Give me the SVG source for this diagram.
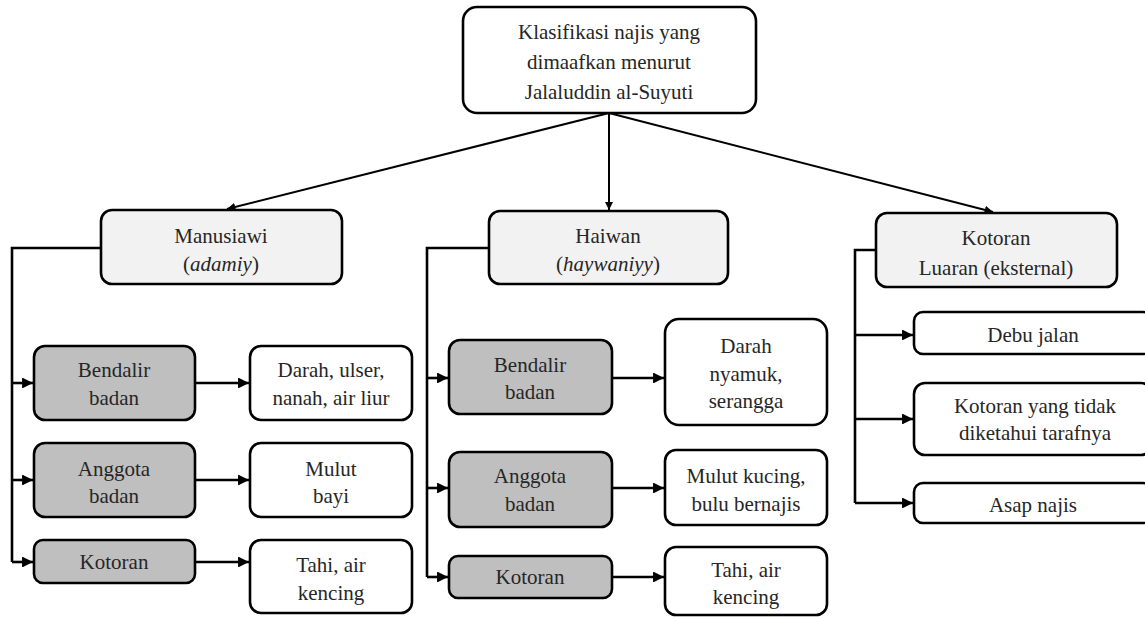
<svg xmlns="http://www.w3.org/2000/svg" width="1145" height="617" viewBox="0 0 1145 617">
<style>
.box{stroke:#000;stroke-width:2.6}
.w{fill:#fff}
.l{fill:#f2f2f2}
.g{fill:#bfbfbf}
.c{fill:none;stroke:#000;stroke-width:2.6}
.t{fill:none;stroke:#000;stroke-width:2}
</style>
<defs>
<marker id="ah" viewBox="0 0 10 10" refX="10" refY="5" markerWidth="4.2" markerHeight="4.2" orient="auto" markerUnits="strokeWidth">
<path d="M0,0 L10,5 L0,10 z" fill="#000"/>
</marker>
</defs>
<g id="connectors">
<path class="t" d="M609,113 L227,209" marker-end="url(#ah)"/>
<path class="t" d="M609,113 L609,210" marker-end="url(#ah)"/>
<path class="t" d="M609,113 L993,212" marker-end="url(#ah)"/>
<path class="c" d="M101,248 H12 V562"/>
<path class="c" d="M12,383 H33" marker-end="url(#ah)"/>
<path class="c" d="M12,480 H33" marker-end="url(#ah)"/>
<path class="c" d="M12,562 H33" marker-end="url(#ah)"/>
<path class="c" d="M195,383 H249" marker-end="url(#ah)"/>
<path class="c" d="M195,480 H249" marker-end="url(#ah)"/>
<path class="c" d="M195,562 H249" marker-end="url(#ah)"/>
<path class="c" d="M489,248 H427 V577"/>
<path class="c" d="M427,378 H448" marker-end="url(#ah)"/>
<path class="c" d="M427,488 H448" marker-end="url(#ah)"/>
<path class="c" d="M427,577 H448" marker-end="url(#ah)"/>
<path class="c" d="M612,378 H664" marker-end="url(#ah)"/>
<path class="c" d="M612,488 H664" marker-end="url(#ah)"/>
<path class="c" d="M612,577 H664" marker-end="url(#ah)"/>
<path class="c" d="M876,250 H855 V503"/>
<path class="c" d="M855,335 H913" marker-end="url(#ah)"/>
<path class="c" d="M855,419 H913" marker-end="url(#ah)"/>
<path class="c" d="M855,503 H913" marker-end="url(#ah)"/>
</g>
<g font-family="Liberation Serif, Times New Roman, serif" font-size="21" fill="#262626" text-anchor="middle">
<g id="root">
<rect class="box w" x="463" y="7" width="293" height="106" rx="14"/>
<text x="609" y="39">Klasifikasi najis yang</text>
<text x="609" y="69">dimaafkan menurut</text>
<text x="609" y="99">Jalaluddin al-Suyuti</text>
</g>
<g id="manusiawi">
<rect class="box l" x="101" y="210" width="241" height="74" rx="11"/>
<text x="221" y="243">Manusiawi</text>
<text x="221" y="271">(<tspan font-style="italic">adamiy</tspan>)</text>
</g>
<g id="m-bendalir">
<rect class="box g" x="34" y="346" width="161" height="74" rx="11"/>
<text x="114" y="377">Bendalir</text>
<text x="114" y="405">badan</text>
</g>
<g id="m-darah">
<rect class="box w" x="250" y="346" width="162" height="74" rx="11"/>
<text x="331" y="377">Darah, ulser,</text>
<text x="331" y="405">nanah, air liur</text>
</g>
<g id="m-anggota">
<rect class="box g" x="34" y="443" width="161" height="74" rx="11"/>
<text x="114" y="476">Anggota</text>
<text x="114" y="503">badan</text>
</g>
<g id="m-mulut">
<rect class="box w" x="250" y="443" width="162" height="74" rx="11"/>
<text x="331" y="476">Mulut</text>
<text x="331" y="503">bayi</text>
</g>
<g id="m-kotoran">
<rect class="box g" x="34" y="540" width="161" height="43" rx="9"/>
<text x="114" y="569">Kotoran</text>
</g>
<g id="m-tahi">
<rect class="box w" x="250" y="540" width="162" height="73" rx="11"/>
<text x="331" y="572">Tahi, air</text>
<text x="331" y="600">kencing</text>
</g>
<g id="haiwan">
<rect class="box l" x="489" y="211" width="239" height="73" rx="11"/>
<text x="608" y="243">Haiwan</text>
<text x="608" y="271">(<tspan font-style="italic">haywaniyy</tspan>)</text>
</g>
<g id="h-bendalir">
<rect class="box g" x="449" y="340" width="163" height="74" rx="11"/>
<text x="530" y="372">Bendalir</text>
<text x="530" y="399">badan</text>
</g>
<g id="h-darah">
<rect class="box w" x="665" y="319" width="162" height="106" rx="14"/>
<text x="746" y="353">Darah</text>
<text x="746" y="381">nyamuk,</text>
<text x="746" y="408">serangga</text>
</g>
<g id="h-anggota">
<rect class="box g" x="449" y="452" width="163" height="75" rx="11"/>
<text x="530" y="483">Anggota</text>
<text x="530" y="511">badan</text>
</g>
<g id="h-mulut">
<rect class="box w" x="665" y="450" width="162" height="75" rx="11"/>
<text x="746" y="483">Mulut kucing,</text>
<text x="746" y="511">bulu bernajis</text>
</g>
<g id="h-kotoran">
<rect class="box g" x="449" y="556" width="163" height="42" rx="9"/>
<text x="530" y="584">Kotoran</text>
</g>
<g id="h-tahi">
<rect class="box w" x="665" y="547" width="162" height="68" rx="11"/>
<text x="746" y="577">Tahi, air</text>
<text x="746" y="604">kencing</text>
</g>
<g id="luaran">
<rect class="box l" x="876" y="213" width="241" height="74" rx="11"/>
<text x="996" y="245">Kotoran</text>
<text x="996" y="275">Luaran (eksternal)</text>
</g>
<g id="l-debu">
<rect class="box w" x="914" y="312" width="238" height="42" rx="9"/>
<text x="1033" y="342">Debu jalan</text>
</g>
<g id="l-kotoran">
<rect class="box w" x="914" y="383" width="238" height="72" rx="11"/>
<text x="1035" y="413">Kotoran yang tidak</text>
<text x="1035" y="440">diketahui tarafnya</text>
</g>
<g id="l-asap">
<rect class="box w" x="914" y="483" width="238" height="40" rx="9"/>
<text x="1033" y="512">Asap najis</text>
</g>
</g>
</svg>
